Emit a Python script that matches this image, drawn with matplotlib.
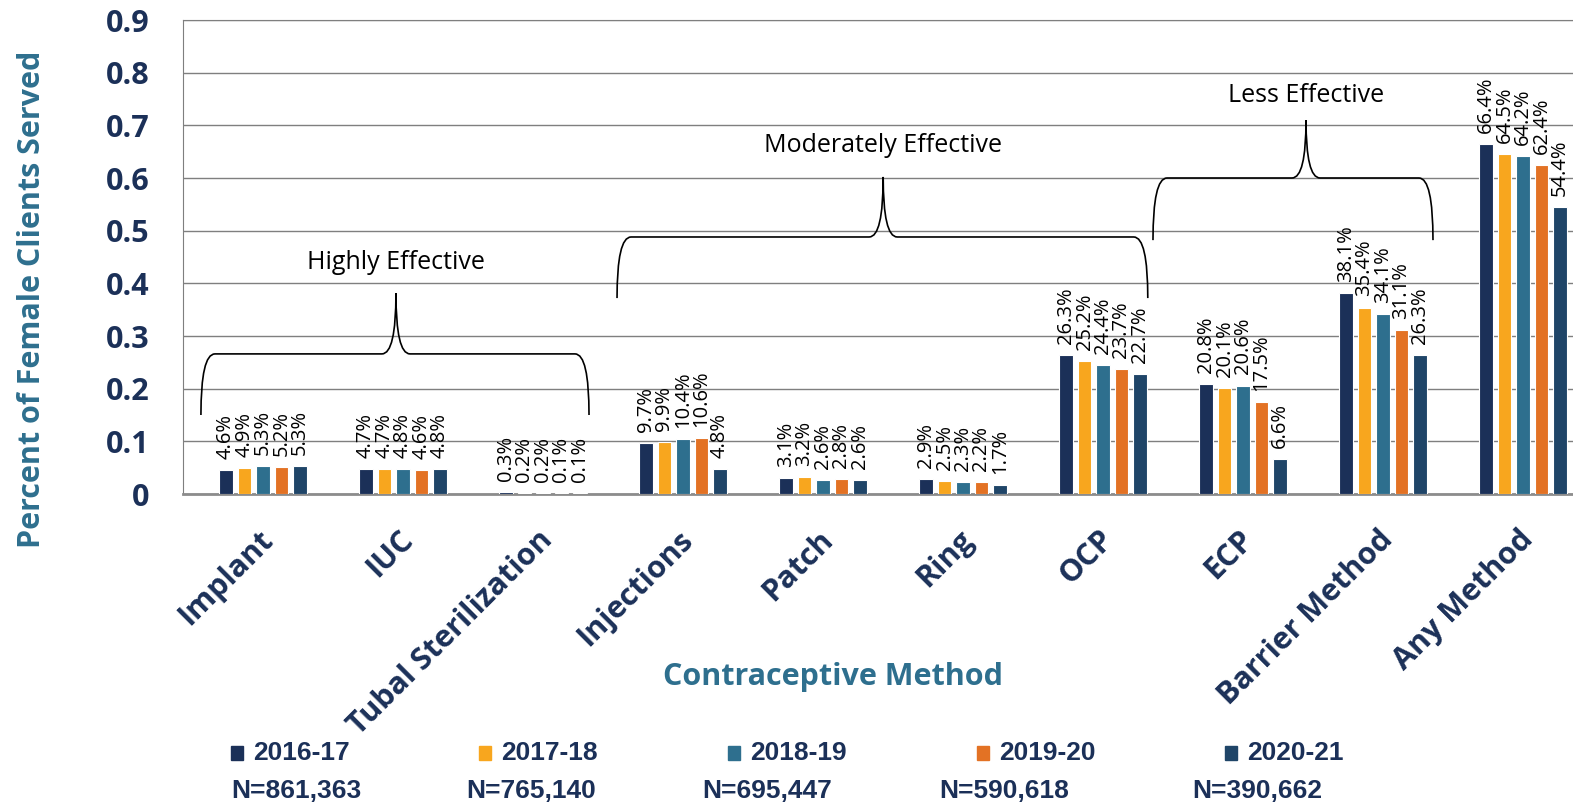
import matplotlib
matplotlib.use('Agg')
import matplotlib.pyplot as plt
from matplotlib.path import Path
from matplotlib.patches import PathPatch, Rectangle
from matplotlib import font_manager
import numpy as np

methods = ['Implant', 'IUC', 'Tubal Sterilization', 'Injections', 'Patch', 'Ring',
           'OCP', 'ECP', 'Barrier Method', 'Any Method']
years = ['2016-17', '2017-18', '2018-19', '2019-20', '2020-21']
n_clients = ['N=861,363', 'N=765,140', 'N=695,447', 'N=590,618', 'N=390,662']

v_2016 = [4.6, 4.7, 0.3, 9.7, 3.1, 2.9, 26.3, 20.8, 38.1, 66.4]
v_2017 = [4.9, 4.7, 0.2, 9.9, 3.2, 2.5, 25.2, 20.1, 35.4, 64.5]
v_2018 = [5.3, 4.8, 0.2, 10.4, 2.6, 2.3, 24.4, 20.6, 34.1, 64.2]
v_2019 = [5.2, 4.6, 0.1, 10.6, 2.8, 2.2, 23.7, 17.5, 31.1, 62.4]
v_2020 = [5.3, 4.8, 0.1, 4.8, 2.6, 1.7, 22.7, 6.6, 26.3, 54.4]
series = [v_2016, v_2017, v_2018, v_2019, v_2020]

colors = ['#1b3058', '#f8a61e', '#2e6f8e', '#e37224', '#1f4568']
navy = '#1b3058'
teal = '#2e6f8e'

# effectiveness groups: label, left, right, peak x, end y, bar y, peak y, text y
braces = [
    ('Highly Effective', -0.443, 2.329, 0.95, 0.15, 0.266, 0.381, 0.44),
    ('Moderately Effective', 2.529, 6.32, 4.43, 0.372, 0.488, 0.602, 0.661),
    ('Less Effective', 6.357, 8.357, 7.45, 0.482, 0.60, 0.71, 0.756),
]

installed = {f.name for f in font_manager.fontManager.ttflist}
narrow = 'Liberation Sans Narrow' if 'Liberation Sans Narrow' in installed else 'Liberation Sans'

fig = plt.figure(figsize=(15.73, 8.07), dpi=100)
ax = fig.add_axes([183 / 1573, 1 - 494 / 807, 1 - 183 / 1573, (494 - 20) / 807])

x = np.arange(len(methods))
stride = 0.132
width = 0.095
for i, vals in enumerate(series):
    h = np.array(vals) / 100
    xs = x + (i - 2) * stride
    ax.bar(xs, h, width=width, color=colors[i], edgecolor='white', linewidth=0.8, zorder=3)
    for xi, hi, v in zip(xs, h, vals):
        ax.annotate(f'{v}%', (xi, hi), xytext=(0, 8), textcoords='offset points',
                    rotation=90, ha='center', va='bottom', fontsize=14.5,
                    family='Open Sans', color='black', zorder=4)

ax.set_ylim(0, 0.9)
ax.set_xlim(-0.571, 9.357)
ax.set_yticks(np.arange(0, 0.91, 0.1))
ax.set_yticklabels(['0'] + [f'{t:.1f}' for t in np.arange(0.1, 0.91, 0.1)])
ax.yaxis.grid(True, color='#7f7f7f', linewidth=1.0, zorder=0)
ax.set_axisbelow(True)
for side in ['left', 'top']:
    ax.spines[side].set_color('#7f7f7f')
ax.spines['right'].set_visible(False)
ax.spines['bottom'].set_color('#8c8c8c')
ax.spines['bottom'].set_linewidth(2)
ax.tick_params(axis='y', length=0, pad=24, labelsize=22, labelcolor=navy)
ax.tick_params(axis='x', length=0, pad=22, labelsize=22, labelcolor=navy)
for lab in ax.get_yticklabels():
    lab.set_fontweight('bold')
    lab.set_family('Open Sans')

ax.set_xticks(x)
ax.set_xticklabels(methods, rotation=45, ha='right', va='top', rotation_mode='anchor',
                   fontweight='bold', family='Open Sans')
offset = matplotlib.transforms.ScaledTranslation(-5 / 100, 0, fig.dpi_scale_trans)
for lab in ax.get_xticklabels():
    lab.set_transform(lab.get_transform() + offset)

ax.set_ylabel('Percent of Female Clients Served', fontsize=22, fontweight='bold',
              color=teal, family='Open Sans')
ax.yaxis.set_label_coords(-0.098, 0.41)

for name, x0, x1, xc, yb, ym, yt, ytext in braces:
    rx = 0.1
    verts = [(x0, yb), (x0, ym), (x0 + rx, ym),
             (xc - rx, ym), (xc, ym), (xc, yt),
             (xc, ym), (xc + rx, ym),
             (x1 - rx, ym), (x1, ym), (x1, yb)]
    codes = [Path.MOVETO, Path.CURVE3, Path.CURVE3,
             Path.LINETO, Path.CURVE3, Path.CURVE3,
             Path.CURVE3, Path.CURVE3,
             Path.LINETO, Path.CURVE3, Path.CURVE3]
    ax.add_patch(PathPatch(Path(verts, codes), facecolor='none', edgecolor='black',
                           linewidth=1.2, zorder=5, clip_on=False))
    ax.text(xc, ytext, name, ha='center', va='center', fontsize=18,
            family='Open Sans', zorder=5)

fig.text(833 / 1573, 1 - 677 / 807, 'Contraceptive Method', ha='center', va='center',
         fontsize=22, fontweight='bold', color=teal, family='Open Sans')

sq_x = [231, 479, 728, 977, 1225]
txt_x = [253, 501, 750, 999, 1247]
n_x = [231, 466, 702, 939, 1192]
for i, yr in enumerate(years):
    fig.patches.append(Rectangle((sq_x[i] / 1573, 1 - 760 / 807), 12 / 1573, 14 / 807,
                                 transform=fig.transFigure, color=colors[i]))
    fig.text(txt_x[i] / 1573, 1 - 753 / 807, yr, ha='left', va='center', fontsize=19,
             fontweight='bold', color=navy, family=narrow)
    fig.text(n_x[i] / 1573, 1 - 791 / 807, n_clients[i], ha='left', va='center', fontsize=19,
             fontweight='bold', color=navy, family=narrow)

fig.savefig('out.png', dpi=100)
